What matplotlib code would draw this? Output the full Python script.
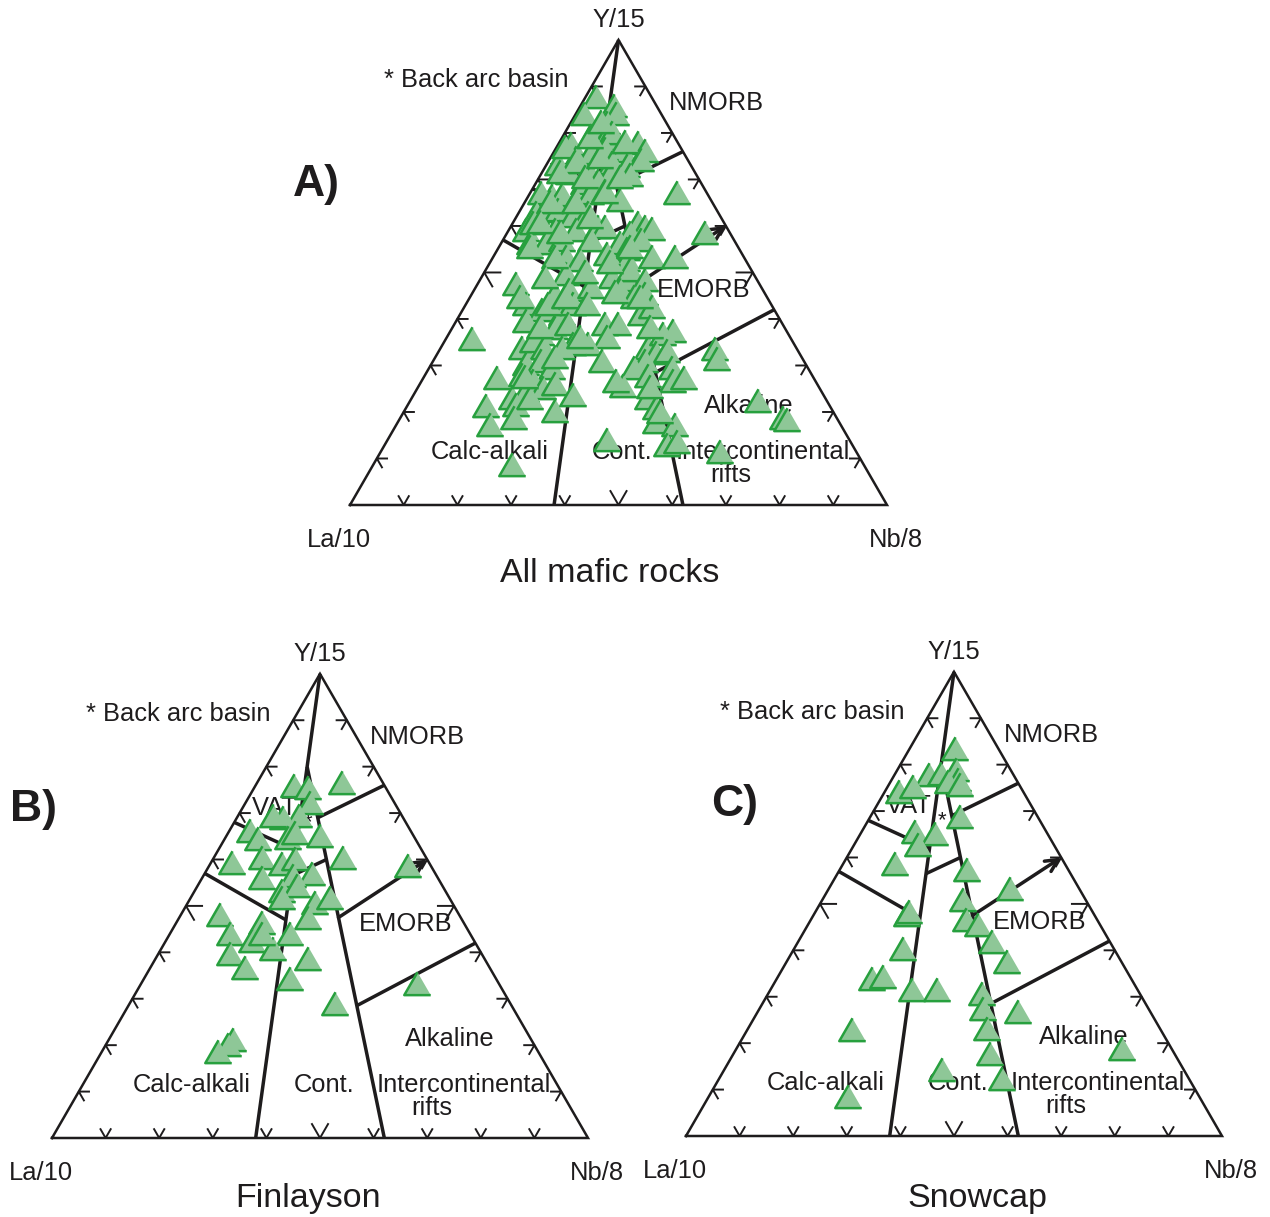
import numpy as np
import matplotlib
matplotlib.use("Agg")
import matplotlib.pyplot as plt

plt.rcParams['font.family'] = ['Liberation Sans', 'DejaVu Sans']

# Compositions in % of La/10 + Y/15 + Nb/8 (La/10 is the remainder)
all_y15 = [87.0, 85.2, 83.4, 83.4, 81.6, 80.9, 78.7, 78.0, 79.4, 77.3, 76.9, 75.4, 75.4, 75.1,
           74.0, 75.8, 72.6, 72.9, 72.2, 73.6, 70.8, 70.4, 70.0, 68.6, 69.0, 70.4, 65.7, 66.4,
           66.1, 65.0, 66.4, 66.8, 65.0, 66.4, 62.1, 62.5, 62.8, 61.4, 62.1, 58.5, 59.9, 58.5,
           58.5, 59.2, 59.2, 59.9, 59.2, 58.8, 57.8, 57.8, 55.6, 55.6, 56.3, 56.3, 55.6, 54.5,
           56.3, 52.7, 52.0, 52.0, 52.7, 52.7, 53.4, 46.9, 49.1, 48.4, 47.7, 49.8, 47.7, 45.5,
           46.2, 44.8, 45.5, 44.0, 44.8, 42.6, 41.2, 40.4, 42.6, 42.6, 40.4, 41.9, 42.6, 39.0,
           37.5, 38.3, 38.3, 38.3, 36.8, 36.1, 35.4, 33.9, 33.9, 33.2, 34.7, 33.2, 33.2, 35.0,
           33.2, 36.1, 32.1, 32.5, 32.9, 30.3, 29.6, 30.3, 28.9, 30.7, 30.3, 28.9, 28.9, 26.7,
           26.0, 27.4, 27.1, 23.8, 24.5, 25.3, 24.9, 26.0, 26.0, 26.7, 22.4, 20.6, 20.9, 22.4,
           19.5, 23.1, 22.4, 20.2, 21.7, 18.1, 17.7, 16.6, 18.1, 17.3, 16.6, 13.4, 12.3, 13.0,
           10.8, 7.9,
           76.3, 73.1, 71.0, 69.9, 64.5, 64.5, 60.2, 58.1, 61.3, 66.7, 69.9, 74.2, 78.5, 77.4,
           81.7, 54.8, 52.7, 48.4, 44.1, 44.1, 49.5, 51.6, 54.8, 45.2, 37.6, 35.5, 31.2, 26.9,
           24.7, 19.4, 44.1, 37.6]
all_nb8 = [2.3, 6.6, 1.8, 7.8, 7.0, 7.1, 5.5, 8.5, 9.1, 14.9, 2.7, 13.1, 17.2, 7.3,
           5.1, 9.6, 2.5, 12.4, 15.4, 17.4, 5.4, 9.6, 13.2, 9.2, 11.7, 17.0, 4.7, 2.3,
           6.5, 9.6, 11.6, 14.1, 17.7, 27.7, 3.5, 5.6, 7.4, 10.8, 13.2, 3.6, 4.2, 8.9,
           12.9, 16.6, 17.9, 23.6, 25.3, 26.8, 23.3, 37.3, 5.7, 8.7, 11.4, 16.7, 22.4, 24.3,
           26.1, 13.8, 16.8, 25.5, 29.9, 34.2, 21.1, 7.4, 15.6, 24.6, 27.7, 27.3, 31.1, 18.1,
           21.7, 15.7, 27.5, 30.9, 32.5, 11.5, 15.2, 19.3, 20.2, 22.9, 34.0, 35.3, 15.5, 13.3,
           19.4, 21.4, 28.4, 30.7, 41.8, 17.5, 30.1, 27.3, 24.6, 15.5, 16.8, 19.5, 22.9, 5.2,
           38.9, 40.2, 40.9, 42.7, 51.5, 31.7, 18.0, 20.4, 23.1, 52.9, 39.8, 38.5, 45.5, 14.1,
           21.1, 18.4, 42.0, 20.9, 23.6, 25.5, 38.4, 36.5, 47.2, 48.9, 18.9, 15.1, 20.4, 22.3,
           28.4, 30.0, 44.3, 46.8, 65.1, 71.6, 72.5, 17.8, 21.4, 48.3, 52.2, 41.1, 52.8, 54.4,
           63.5, 26.2,
           1.9, 5.4, 3.6, 8.9, 5.0, 9.7, 5.3, 10.1, 14.1, 14.2, 15.4, 9.5, 5.5, 12.5,
           5.8, 6.1, 11.9, 12.1, 9.7, 18.0, 19.1, 22.6, 24.7, 26.7, 16.6, 25.1, 22.6, 19.2,
           43.6, 48.0, 32.0, 37.1]

fin_y15 = [75.2, 74.7, 75.8, 71.5, 68.7, 68.3, 68.7, 65.4, 63.7, 63.9, 65.0, 64.4, 58.5, 59.6,
           58.3, 59.4, 56.2, 59.6, 57.9, 55.3, 55.7, 52.5, 53.6, 51.0, 49.9, 51.0, 47.5, 46.7,
           45.6, 43.2, 43.4, 41.7, 40.0, 39.1, 38.0, 35.9, 33.7, 28.3, 32.6, 20.5, 19.4, 17.9,
           43.4]
fin_nb8 = [7.5, 10.4, 16.2, 12.4, 11.8, 9.0, 6.9, 4.2, 6.6, 12.1, 12.8, 17.8, 4.4, 9.4,
           13.8, 15.6, 20.4, 24.5, 37.5, 11.6, 17.2, 16.7, 18.9, 17.4, 24.2, 26.4, 7.6, 24.5,
           16.4, 11.6, 22.7, 16.5, 21.2, 13.7, 28.8, 18.1, 27.6, 38.7, 51.8, 23.6, 23.1, 22.1,
           17.5]

snow_y15 = [82.8, 77.2, 77.4, 78.2, 76.1, 75.6, 75.0, 73.5, 74.6, 68.1, 64.9, 64.4, 62.1, 58.0,
            56.7, 52.6, 50.2, 47.0, 47.6, 45.9, 44.8, 41.2, 36.9, 39.7, 33.2, 33.6, 30.8, 30.8,
            30.0, 26.7, 26.1, 22.4, 17.0, 13.6, 11.6, 22.2, 7.8, 18.1]
snow_nb8 = [8.8, 6.7, 8.9, 11.3, 12.7, 11.1, 13.6, 2.9, 5.1, 17.1, 10.3, 14.3, 12.3, 10.0,
            24.1, 34.1, 26.6, 17.7, 17.8, 29.2, 32.1, 36.5, 41.5, 20.7, 18.1, 20.0, 26.8, 31.4,
            40.2, 42.1, 48.9, 45.0, 48.2, 41.0, 53.2, 19.9, 26.3, 72.3]

# Field boundaries of the La/10-Y/15-Nb/8 diagram, as (Y/15 %, Nb/8 %) end points
boundaries = [
    [(100, 0), (0, 38)],
    [(80, 7.6), (0, 62)],
    [(56.5, 16.5), (60, 21.2)],
    [(68, 0), (62, 14.4)],
    [(57, 0), (47, 20.1)],
    [(69, 15.1), (76, 24)],
    [(28.5, 42.6), (42, 58)],
]
arrow_line = [(47.5, 29.7), (60, 40)]

SQ = np.sqrt(3) / 2
FIG_W, FIG_H = 1270, 1217
FILL = '#8ec797'
EDGE = '#27a03e'
INK = '#1e1c1d'
TRI = [(0, 1), (-0.866, -0.5), (0.866, -0.5)]


def tern(y15, nb8):
    y = np.asarray(y15, float) / 100
    nb = np.asarray(nb8, float) / 100
    return nb + y / 2, y * SQ


def make_axes(fig, lx, ly, w, xlim=(-0.2, 1.2), ylim=(-0.25, 1.0)):
    left = (lx + xlim[0] * w) / FIG_W
    bottom = (FIG_H - ly + ylim[0] * w) / FIG_H
    ax = fig.add_axes([left, bottom, (xlim[1] - xlim[0]) * w / FIG_W,
                       (ylim[1] - ylim[0]) * w / FIG_H])
    ax.set_xlim(xlim)
    ax.set_ylim(ylim)
    ax.axis('off')
    return ax


def draw_frame(ax):
    ax.plot([0, 1, 0.5, 0], [0, 0, SQ, 0], color=INK, lw=1.8, zorder=2,
            solid_joinstyle='miter')
    # chevron ticks every 10 %, arms along the two grid directions
    for k in range(1, 10):
        f = k / 10
        L = 0.03 if k == 5 else 0.019
        sets = [
            ((f, 0), [(0.5, SQ), (-0.5, SQ)]),
            ((f / 2, f * SQ), [(1, 0), (0.5, -SQ)]),
            ((1 - f / 2, f * SQ), [(-1, 0), (-0.5, -SQ)]),
        ]
        for (px, py), arms in sets:
            (ax1, ay1), (ax2, ay2) = arms
            ax.plot([px + L * ax1, px, px + L * ax2], [py + L * ay1, py, py + L * ay2],
                    color=INK, lw=1.4, zorder=2)
    for seg in boundaries:
        xs, ys = tern([p[0] for p in seg], [p[1] for p in seg])
        ax.plot(xs, ys, color=INK, lw=2.5, zorder=2, solid_capstyle='butt')
    xs, ys = tern([p[0] for p in arrow_line], [p[1] for p in arrow_line])
    ax.annotate('', xy=(xs[1], ys[1]), xytext=(xs[0], ys[0]),
                arrowprops=dict(arrowstyle='->', lw=2.5, color=INK, shrinkA=0, shrinkB=0,
                                mutation_scale=22), zorder=2)


def label(ax, x, yc, s, size=18.4, ha='center', weight='normal'):
    cap = 0.716 * size / 72 * 100 / 2
    ax.text(x, yc - cap / ax_w[ax], s, fontsize=size, ha=ha, va='baseline', color=INK,
            fontweight=weight, zorder=3)


fig = plt.figure(figsize=(FIG_W / 100, FIG_H / 100), dpi=100)
fig.patch.set_facecolor('white')

panels = [
    (350, 505, 537, all_y15, all_nb8, 'All mafic rocks', (0.484, -0.121), 'A)', (-0.063, 0.605)),
    (52, 1138, 536, fin_y15, fin_nb8, 'Finlayson', (0.478, -0.106), 'B)', (-0.035, 0.621)),
    (686, 1136, 536, snow_y15, snow_nb8, 'Snowcap', (0.543, -0.110), 'C)', (0.09, 0.627)),
]

ax_w = {}
for lx, ly, w, ys15, nbs8, title, tpos, tag, tagpos in panels:
    ax = make_axes(fig, lx, ly, w)
    ax_w[ax] = w
    draw_frame(ax)

    label(ax, 0.50, 0.907, 'Y/15')
    label(ax, -0.02, -0.061, 'La/10')
    label(ax, 1.017, -0.061, 'Nb/8')
    label(ax, 0.235, 0.795, '* Back arc basin')
    label(ax, 0.682, 0.752, 'NMORB')
    label(ax, 0.659, 0.404, 'EMORB')
    label(ax, 0.742, 0.188, 'Alkaline')
    label(ax, 0.260, 0.102, 'Calc-alkali')
    label(ax, 0.507, 0.102, 'Cont.')
    label(ax, 0.768, 0.102, 'Intercontinental')
    label(ax, 0.709, 0.060, 'rifts')
    label(ax, 0.478, 0.592, '*', size=16)
    label(ax, 0.415, 0.620, 'VAT')
    label(ax, tpos[0], tpos[1], title, size=24.5)
    label(ax, tagpos[0], tagpos[1], tag, size=32, weight='bold')

    x, y = tern(ys15, nbs8)
    ax.plot(x, y, linestyle='none', marker=TRI, markersize=22,
            markerfacecolor=FILL, markeredgecolor=EDGE, markeredgewidth=1.8, zorder=5)

fig.savefig('out.png', dpi=100, facecolor='white')
